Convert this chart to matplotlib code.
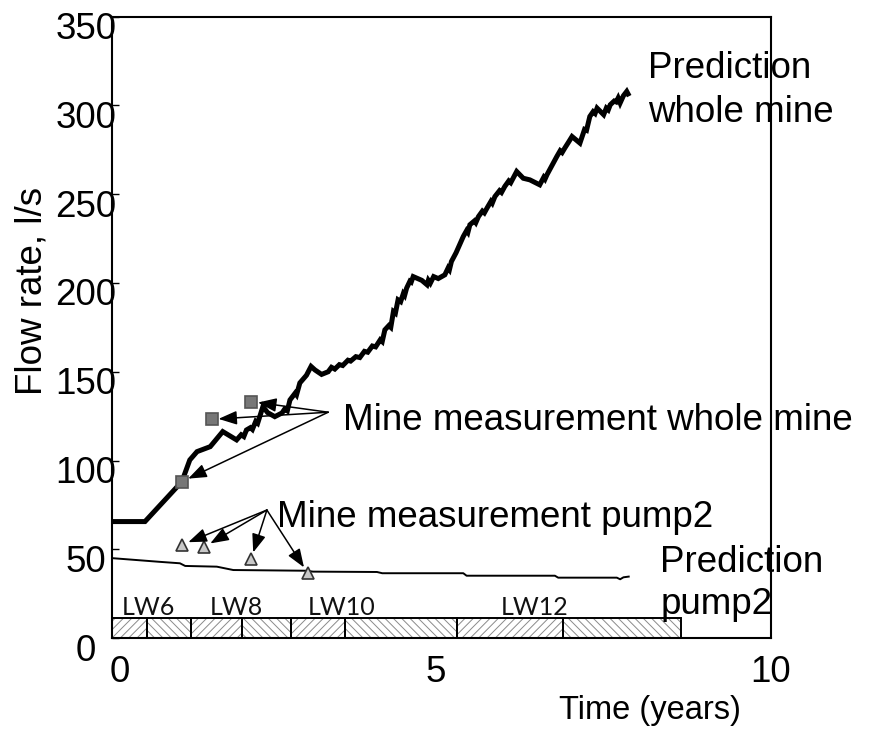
import matplotlib

matplotlib.use("Agg")
import matplotlib.pyplot as plt
import matplotlib.transforms as mtransforms
from matplotlib import font_manager

# --- values --------------------------------------------------------------
whole_t = [0.00, 0.50, 1.06, 1.18, 1.29, 1.49, 1.68, 1.89, 1.96, 2.00, 2.04,
           2.10, 2.13, 2.18, 2.21, 2.29, 2.36, 2.47, 2.58, 2.62, 2.66, 2.70,
           2.78, 2.80, 2.85, 2.95, 3.02, 3.08, 3.18, 3.28, 3.33, 3.38, 3.45,
           3.50, 3.58, 3.62, 3.70, 3.76, 3.83, 3.88, 3.95, 4.00, 4.07, 4.10,
           4.14, 4.20, 4.23, 4.27, 4.30, 4.34, 4.38, 4.42, 4.44, 4.47, 4.52,
           4.54, 4.57, 4.70, 4.78, 4.80, 4.83, 4.88, 4.95, 5.05, 5.10, 5.12,
           5.15, 5.22, 5.33, 5.38, 5.40, 5.43, 5.50, 5.52, 5.56, 5.62, 5.65,
           5.69, 5.75, 5.77, 5.81, 5.88, 5.91, 5.96, 6.02, 6.05, 6.14, 6.24,
           6.34, 6.49, 6.55, 6.57, 6.60, 6.68, 6.75, 6.80, 6.83, 6.87, 6.93,
           6.98, 7.10, 7.17, 7.20, 7.25, 7.30, 7.33, 7.36, 7.46, 7.50, 7.53,
           7.56, 7.62, 7.65, 7.68, 7.71, 7.76, 7.81, 7.83]
whole_q = [65.6, 65.6, 88.1, 100.3, 105.0, 107.8, 116.3, 111.6, 114.5, 113.5,
           117.2, 118.5, 117.5, 122.0, 121.0, 130.4, 127.0, 124.7, 126.8, 129.0,
           128.0, 134.1, 138.0, 137.0, 143.7, 148.0, 153.0, 151.0, 148.5, 150.0,
           152.5, 151.5, 154.0, 153.5, 156.5, 156.0, 158.5, 158.0, 161.5, 161.0,
           164.5, 164.0, 168.0, 167.0, 173.6, 176.0, 175.0, 183.9, 183.0, 190.5,
           189.5, 194.0, 193.0, 197.1, 201.0, 200.5, 203.6, 201.5, 199.0, 201.5,
           199.9, 203.6, 202.5, 204.6, 208.5, 207.5, 212.1, 217.0, 226.2, 229.5,
           228.5, 232.8, 235.0, 234.0, 237.4, 240.5, 239.5, 242.2, 246.0, 245.0,
           248.7, 252.0, 251.0, 254.4, 257.5, 256.5, 262.8, 259.0, 258.1, 255.3,
           259.5, 258.5, 261.0, 266.5, 271.3, 274.5, 273.5, 276.0, 279.5, 282.5,
           278.8, 286.5, 286.0, 293.8, 296.5, 295.5, 298.5, 294.8, 298.5, 297.5,
           300.4, 302.5, 302.0, 304.2, 301.4, 305.5, 307.9, 306.5]

pump_t = [0.00, 0.73, 1.03, 1.11, 1.59, 1.84, 2.95, 3.05, 4.02, 4.10, 5.33,
          5.38, 6.72, 6.77, 7.66, 7.71, 7.76, 7.84]
pump_q = [45.0, 42.9, 42.1, 40.6, 40.2, 38.3, 37.9, 37.4, 37.2, 36.5, 36.5,
          35.1, 35.1, 34.0, 34.0, 33.1, 34.2, 34.6]

meas_whole_t = [1.06, 1.51, 2.11]
meas_whole_q = [88.1, 123.2, 133.2]
meas_pump_t = [1.06, 1.40, 2.11, 2.97]
meas_pump_q = [52.5, 51.3, 44.5, 36.5]

# longwall panels along the bottom (years)
panel_edges = [0.0, 0.53, 1.20, 1.97, 2.71, 3.53, 5.24, 6.85, 8.64]
panel_names = ["LW6", "LW8", "LW10", "LW12"]
panel_label_t = [0.55, 1.88, 3.48, 6.42]

y_ticks = [0, 50, 100, 150, 200, 250, 300, 350]
x_ticks = [0, 5, 10]

# --- figure ----------------------------------------------------------------
MAIN = "Liberation Sans"
names = {f.name for f in font_manager.fontManager.ttflist}
NARROW = "Liberation Sans Narrow" if "Liberation Sans Narrow" in names else MAIN
FS = 26.5

plt.rcParams["hatch.linewidth"] = 0.7

fig = plt.figure(figsize=(8.8, 7.3), dpi=100)
ax = fig.add_axes([0.1273, 0.126, 0.7489, 0.8511])
ax.set_xlim(0, 10)
ax.set_ylim(0, 350)
for sp in ax.spines.values():
    sp.set_linewidth(1.5)

# panel bar
widths = [b - a for a, b in zip(panel_edges[:-1], panel_edges[1:])]
for i, (x0, w) in enumerate(zip(panel_edges[:-1], widths)):
    ax.bar(x0, 11, width=w, align="edge", color="white", edgecolor="#8a8a8a",
           linewidth=0, hatch="////" if i % 2 == 0 else "\\\\\\\\", zorder=2)
    ax.bar(x0, 11, width=w, align="edge", fill=False, edgecolor="black",
           linewidth=1.4, zorder=3)
for name, t in zip(panel_names, panel_label_t):
    ax.text(t, 13.0, name, ha="center", va="baseline", fontsize=18,
            family="Lato", color="#111111")

# lines
ax.plot(whole_t, whole_q, color="black", lw=3.6, solid_joinstyle="miter",
        zorder=4)
ax.plot(pump_t, pump_q, color="black", lw=1.4, zorder=4)

# measurements
ax.plot(meas_whole_t, meas_whole_q, ls="none", marker="s", ms=8.5,
        mfc="#777777", mec="#555555", mew=1.2, zorder=5)
ax.plot(meas_pump_t, meas_pump_q, ls="none", marker="^", ms=9,
        mfc="#c8c8c8", mec="#333333", mew=1.2, zorder=5)

arrow = dict(arrowstyle="-|>,head_length=0.8,head_width=0.3", color="black",
             lw=1.1, shrinkA=0, shrinkB=5, mutation_scale=14)
for t, q in zip(meas_whole_t, meas_whole_q):
    ax.annotate("", xy=(t, q), xytext=(3.28, 127.2), arrowprops=arrow,
                zorder=6)
for t, q in zip(meas_pump_t, meas_pump_q):
    ax.annotate("", xy=(t, q), xytext=(2.35, 72.1), arrowprops=arrow,
                zorder=6)

txt = dict(fontsize=FS, family=MAIN, va="baseline", ha="left")
ax.text(8.13, 315.6, "Prediction", **txt)
ax.text(8.13, 290.8, "whole mine", **txt)
ax.text(3.51, 117.2, "Mine measurement whole mine", **txt)
ax.text(2.50, 62.6, "Mine measurement pump2", **txt)
ax.text(8.32, 37.2, "Prediction", **txt)
ax.text(8.32, 13.5, "pump2", **txt)

# y axis: labels centred a little left of the spine, sitting below the tick
ax.set_yticks(y_ticks)
ax.set_yticklabels([str(v) for v in y_ticks], fontsize=FS, family=MAIN)
ax.tick_params(axis="y", direction="in", length=5, width=1.0, pad=18.7)
down = mtransforms.ScaledTranslation(0, -0.09, fig.dpi_scale_trans)
for lab in ax.get_yticklabels():
    lab.set_horizontalalignment("center")
    lab.set_transform(lab.get_transform() + down)

ax.set_xticks(x_ticks)
ax.set_xticklabels([str(v) for v in x_ticks], fontsize=FS, family=NARROW)
ax.tick_params(axis="x", length=0, pad=12)
shifts = [0.08, -0.06, 0.0]  # the hand-placed labels sit a little off the ticks
for lab, dx in zip(ax.get_xticklabels(), shifts):
    lab.set_transform(lab.get_transform()
                      + mtransforms.ScaledTranslation(dx, 0, fig.dpi_scale_trans))

fig.text(32 / 880, 1 - 291 / 730, "Flow rate, l/s", rotation=90, ha="center",
         va="center", fontsize=FS, family=MAIN)
fig.text(650 / 880, 1 - 710 / 730, "Time (years)", ha="center", va="center",
         fontsize=23.5, family=NARROW)

fig.savefig("out.png", dpi=100)
